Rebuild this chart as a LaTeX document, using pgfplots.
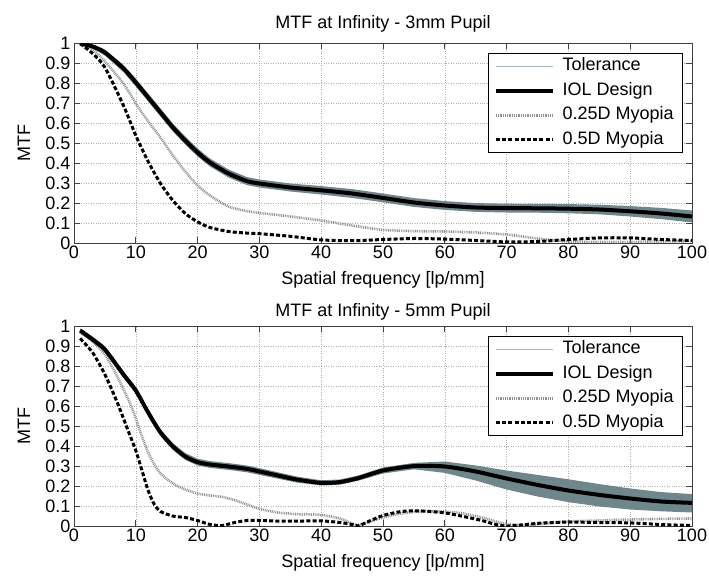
\documentclass[border=0pt]{standalone}
\usepackage{pgfplots}
\pgfplotsset{compat=1.18}
\usepackage{fontspec}
\setmainfont{Liberation Sans}

\definecolor{tolband}{RGB}{111,134,138}
\definecolor{tolline}{RGB}{170,190,195}
\definecolor{gridc}{RGB}{175,175,175}
\definecolor{myo}{RGB}{145,145,145}

% 3 mm pupil: tolerance envelope (upper limit forward, lower limit back)
\pgfplotstableread{
x    y
1    1.000
3    0.995
5    0.970
8    0.893
10   0.825
12   0.750
14   0.675
16   0.600
18   0.535
20   0.475
22   0.425
25   0.370
28   0.332
30   0.320
35   0.300
40   0.287
45   0.272
50   0.250
55   0.227
60   0.212
65   0.202
70   0.199
75   0.198
80   0.197
85   0.194
90   0.187
95   0.178
100  0.165
100  0.105
95   0.122
90   0.135
85   0.146
80   0.151
75   0.154
70   0.155
65   0.158
60   0.168
55   0.183
50   0.206
45   0.228
40   0.245
35   0.260
30   0.280
28   0.292
25   0.330
22   0.385
20   0.435
18   0.495
16   0.560
14   0.635
12   0.710
10   0.785
8    0.857
5    0.940
3    0.975
1    0.995
}\tolA

\pgfplotstableread{
x    iol    m25    m50
1    1.000  1.000  1.000
3    0.985  0.970  0.950
5    0.955  0.910  0.880
8    0.875  0.800  0.690
10   0.805  0.700  0.540
12   0.730  0.610  0.410
14   0.655  0.530  0.300
16   0.580  0.440  0.215
18   0.515  0.360  0.150
20   0.455  0.290  0.108
22   0.405  0.240  0.080
25   0.350  0.185  0.060
28   0.312  0.162  0.052
30   0.300  0.153  0.049
35   0.280  0.135  0.036
40   0.266  0.115  0.018
45   0.250  0.090  0.014
50   0.228  0.068  0.020
55   0.205  0.062  0.025
60   0.190  0.060  0.022
65   0.180  0.055  0.015
70   0.177  0.045  0.008
75   0.176  0.025  0.010
80   0.174  0.010  0.020
85   0.170  0.008  0.028
90   0.161  0.008  0.028
95   0.150  0.010  0.020
100  0.135  0.012  0.015
}\curA

% 5 mm pupil: tolerance envelope
\pgfplotstableread{
x    y
1    0.990
3    0.950
5    0.900
8    0.776
10   0.696
12   0.586
14   0.487
16   0.417
18   0.367
20   0.339
22   0.327
25   0.317
28   0.305
30   0.292
33   0.271
36   0.250
40   0.231
43   0.235
46   0.255
50   0.295
55   0.318
60   0.325
65   0.305
70   0.280
75   0.258
80   0.236
85   0.212
90   0.190
95   0.172
100  0.162
100  0.070
95   0.076
90   0.085
85   0.100
80   0.122
75   0.150
70   0.185
65   0.230
60   0.268
55   0.286
50   0.265
46   0.229
43   0.209
40   0.205
36   0.220
33   0.239
30   0.258
28   0.271
25   0.283
22   0.293
20   0.305
18   0.333
16   0.383
14   0.453
12   0.554
10   0.664
8    0.744
5    0.870
3    0.920
1    0.970
}\tolB

\pgfplotstableread{
x    iol
1    0.980
3    0.935
5    0.885
8    0.760
10   0.680
12   0.570
14   0.470
16   0.400
18   0.350
20   0.322
22   0.310
25   0.300
28   0.288
30   0.275
33   0.255
36   0.235
40   0.218
43   0.222
46   0.242
50   0.280
55   0.302
60   0.300
65   0.275
70   0.240
75   0.208
80   0.180
85   0.158
90   0.140
95   0.125
100  0.118
}\iolB

\pgfplotstableread{
x    m25    m50
1    0.970  0.940
3    0.925  0.870
5    0.860  0.760
7    0.750  0.620
9    0.620  0.460
10   0.540  0.380
11   0.450  0.280
12   0.370  0.180
13   0.310  0.110
14   0.265  0.075
16   0.215  0.052
18   0.185  0.045
20   0.165  0.030
22   0.155  0.010
24   0.148  0.005
26   0.132  0.020
28   0.110  0.030
30   0.088  0.030
33   0.070  0.027
36   0.062  0.027
40   0.058  0.028
43   0.040  0.020
45   0.015  0.010
46   0.008  0.003
48   0.025  0.030
50   0.045  0.055
53   0.065  0.075
56   0.075  0.078
60   0.075  0.068
63   0.065  0.050
66   0.045  0.030
68   0.028  0.012
70   0.012  0.002
73   0.006  0.010
76   0.014  0.018
80   0.025  0.022
85   0.030  0.020
90   0.035  0.018
95   0.038  0.010
100  0.040  0.005
}\myoB

\pgfplotsset{
  every axis title shift=0pt,
  mtfaxis/.style={
    scale only axis, width=618pt, height=200pt,
    xmin=0, xmax=100, ymin=0, ymax=1,
    xtick={0,10,...,100}, ytick={0,0.1,...,1},
    yticklabels={0,0.1,0.2,0.3,0.4,0.5,0.6,0.7,0.8,0.9,1},
    font=\fontsize{18}{21}\selectfont,
    /pgf/number format/assume math mode=true,
    tick align=inside, major tick length=6pt,
    axis line style={black!75, line width=0.8pt},
    tick style={black!75, line width=0.8pt},
    grid=major,
    major grid style={gridc, dotted, line width=0.5pt},
    xticklabel style={yshift=1pt},
    xlabel={Spatial frequency [lp/mm]},
    ylabel={MTF},
    xlabel style={at={(axis description cs:0.5,0)}, anchor=base, yshift=-41.5pt},
    ylabel style={at={(axis description cs:0,0.5)}, anchor=center, yshift=50pt},
    legend cell align=left,
    legend style={at={(axis description cs:1,1)}, anchor=north east,
      xshift=-9pt, yshift=-9.5pt, draw=black, line width=0.8pt,
      inner xsep=5.5pt, inner ysep=3pt, row sep=4.5pt, column sep=4pt,
      nodes={inner xsep=3.5pt, inner ysep=1.5pt, text height=13pt, text depth=4pt,
        font=\fontsize{18}{21}\selectfont}},
  },
  legend image code/.code={\draw[#1] (0pt,0pt) -- (57pt,0pt);},
  iolstyle/.style={black, line width=4pt},
  m25style/.style={myo, line width=2.6pt, dash pattern=on 0.9pt off 0.9pt},
  m50style/.style={black, line width=3pt, dash pattern=on 4pt off 2.2pt},
  curve/.style={smooth, tension=0.45, forget plot},
}

\begin{document}
\begin{tikzpicture}
\useasboundingbox (0,0) rectangle (709pt,578pt);

\begin{axis}[mtfaxis, at={(74pt,334.5pt)}, anchor=south west,
  title={MTF at Infinity - 3mm Pupil},
  title style={at={(axis description cs:0.5,1)}, anchor=base, yshift=14.5pt}]
  \addplot[fill=tolband, draw=none, forget plot] table[x=x, y=y] {\tolA} -- cycle;
  \addplot[m25style, curve] table[x=x, y=m25] {\curA};
  \addplot[m50style, curve] table[x=x, y=m50] {\curA};
  \addplot[iolstyle, curve] table[x=x, y=iol] {\curA};
  \addlegendimage{tolline, line width=1.5pt}
  \addlegendentry{Tolerance}
  \addlegendimage{iolstyle}
  \addlegendentry{IOL Design}
  \addlegendimage{m25style}
  \addlegendentry{0.25D Myopia}
  \addlegendimage{m50style}
  \addlegendentry{0.5D Myopia}
\end{axis}

\begin{axis}[mtfaxis, at={(74pt,51.5pt)}, anchor=south west,
  title={MTF at Infinity - 5mm Pupil},
  title style={at={(axis description cs:0.5,1)}, anchor=base, yshift=9.5pt}]
  \addplot[fill=tolband, draw=none, forget plot] table[x=x, y=y] {\tolB} -- cycle;
  \addplot[m25style, curve] table[x=x, y=m25] {\myoB};
  \addplot[m50style, curve] table[x=x, y=m50] {\myoB};
  \addplot[iolstyle, curve] table[x=x, y=iol] {\iolB};
  \addlegendimage{tolline, line width=1.5pt}
  \addlegendentry{Tolerance}
  \addlegendimage{iolstyle}
  \addlegendentry{IOL Design}
  \addlegendimage{m25style}
  \addlegendentry{0.25D Myopia}
  \addlegendimage{m50style}
  \addlegendentry{0.5D Myopia}
\end{axis}
\end{tikzpicture}
\end{document}
